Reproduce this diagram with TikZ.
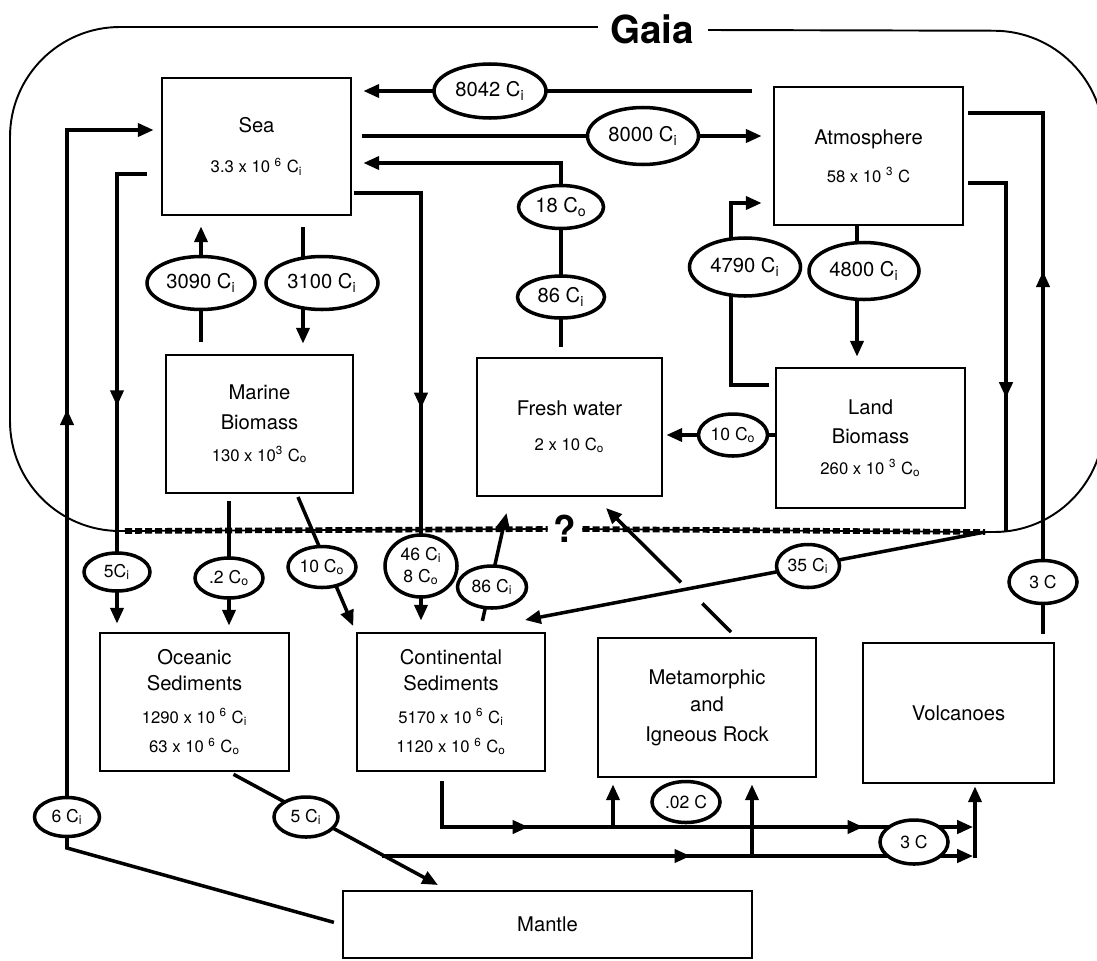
\documentclass[tikz,border=0pt]{standalone}
\usepackage{fontspec}
\setmainfont{TeX Gyre Heros}
\usetikzlibrary{arrows.meta,calc,shapes.geometric,decorations.markings,backgrounds}

\newlength{\unitpx}
\setlength{\unitpx}{0.02cm}
\newcommand{\Cin}{C\textsubscript{i}}
\newcommand{\Corg}{C\textsubscript{o}}
\newcommand{\valf}{\fontsize{9.5}{15}\selectfont}

\tikzset{
  >={Triangle[length=9pt,width=7.5pt]},
  stock/.style     = {draw, line width=1.6pt, fill=white, inner sep=0pt, align=center,
                      font=\fontsize{11.5}{15}\selectfont},
  flux/.style      = {ellipse, draw, line width=2pt, fill=white, inner sep=0pt,
                      align=center, font=\fontsize{11.5}{14}\selectfont},
  smallflux/.style = {flux, font=\fontsize{10}{12.5}\selectfont},
  flow/.style      = {->, line width=2pt},
  link/.style      = {line width=2pt},
  midarrow/.style  = {postaction={decorate, decoration={markings,
                      mark=at position #1 with {\arrow{>}}}}},
  gaia loop/.style = {line width=1.1pt, rounded corners=2.2cm},
  unknown/.style   = {line width=3.2pt, dash pattern=on 4pt off 1.7pt},
}

\begin{document}
\begin{tikzpicture}[x=0.02cm, y=-0.02cm]
  \useasboundingbox (0,0) rectangle (1097,960);

  % reservoirs
  \node[stock, minimum width=189\unitpx, minimum height=137\unitpx] (sea) at (256.5,146.5)
    {Sea\\[8pt]{\valf 3.3 x 10 \textsuperscript{6} \Cin}};
  \node[stock, minimum width=189\unitpx, minimum height=138\unitpx] (atmo) at (868.5,156)
    {Atmosphere\\[6.5pt]{\valf 58 x 10 \textsuperscript{3} C}};
  \node[stock, minimum width=187\unitpx, minimum height=138\unitpx] (marine) at (259.5,424)
    {Marine\\[2pt]Biomass\\[3pt]{\valf 130 x 10\textsuperscript{3} \Corg}};
  \node[stock, minimum width=185\unitpx, minimum height=138\unitpx] (fresh) at (569.5,427)
    {Fresh water\\[5pt]{\valf 2 x 10 \Corg}};
  \node[stock, minimum width=189\unitpx, minimum height=140\unitpx] (land) at (870.5,438)
    {Land\\[1.5pt]Biomass\\[2.5pt]{\valf 260 x 10 \textsuperscript{3} \Corg}};
  \node[stock, minimum width=189\unitpx, minimum height=138\unitpx] (ocean) at (194.5,702)
    {Oceanic\\Sediments\\[3.5pt]{\valf 1290 x 10 \textsuperscript{6} \Cin}\\[2pt]{\valf 63 x 10 \textsuperscript{6} \Corg}};
  \node[stock, minimum width=188\unitpx, minimum height=138\unitpx] (cont) at (451,702)
    {Continental\\Sediments\\[3.5pt]{\valf 5170 x 10 \textsuperscript{6} \Cin}\\[2pt]{\valf 1120 x 10 \textsuperscript{6} \Corg}};
  \node[stock, minimum width=218\unitpx, minimum height=139\unitpx] (meta) at (707,707.5)
    {Metamorphic\\[0.5pt]and\\[2pt]Igneous Rock};
  \node[stock, minimum width=191\unitpx, minimum height=140\unitpx] (volc) at (958.5,713) {Volcanoes};
  \node[stock, minimum width=409\unitpx, minimum height=67\unitpx] (mantle) at (547.5,924.5) {Mantle};

  % fluxes
  \node[flux, minimum width=112\unitpx, minimum height=54\unitpx] (f8042) at (490,91) {8042 \Cin};
  \node[flux, minimum width=111\unitpx, minimum height=57\unitpx] (f8000) at (643,136) {8000 \Cin};
  \node[flux, minimum width=85\unitpx, minimum height=43\unitpx] (f18) at (561,207) {18 \Corg};
  \node[flux, minimum width=87\unitpx, minimum height=42\unitpx] (f86a) at (561,297) {86 \Cin};
  \node[flux, minimum width=108\unitpx, minimum height=53\unitpx] (f3090) at (201,283) {3090 \Cin};
  \node[flux, minimum width=112\unitpx, minimum height=53\unitpx] (f3100) at (322,283) {3100 \Cin};
  \node[flux, minimum width=111\unitpx, minimum height=58\unitpx] (f4790) at (745,267) {4790 \Cin};
  \node[flux, minimum width=110\unitpx, minimum height=57\unitpx] (f4800) at (864,271) {4800 \Cin};
  \node[smallflux, minimum width=69\unitpx, minimum height=42\unitpx] (f10a) at (733,435) {10 \Corg};
  \node[smallflux, minimum width=66\unitpx, minimum height=38\unitpx] (f5a) at (117,572) {5\Cin};
  \node[smallflux, minimum width=68\unitpx, minimum height=40\unitpx] (f02) at (229,578) {.2 \Corg};
  \node[smallflux, minimum width=68\unitpx, minimum height=41\unitpx] (f10b) at (322,567) {10 \Corg};
  \node[smallflux, minimum width=72\unitpx, minimum height=62\unitpx] (f46) at (421,566) {46 \Cin\\8 \Corg};
  \node[smallflux, minimum width=69\unitpx, minimum height=42\unitpx] (f86b) at (492,587) {86 \Cin};
  \node[smallflux, minimum width=63\unitpx, minimum height=43\unitpx] (f35) at (808,566) {35 \Cin};
  \node[smallflux, minimum width=68\unitpx, minimum height=43\unitpx] (f3a) at (1043,582) {3 C};
  \node[smallflux, minimum width=65\unitpx, minimum height=39\unitpx] (f6) at (67,817) {6 \Cin};
  \node[smallflux, minimum width=64\unitpx, minimum height=40\unitpx] (f5b) at (306,817) {5 \Cin};
  \node[smallflux, minimum width=68\unitpx, minimum height=41\unitpx] (f002) at (686,802) {.02 C};
  \node[smallflux, minimum width=68\unitpx, minimum height=44\unitpx] (f3b) at (914,842) {3 C};

  \node[font=\fontsize{22}{22}\selectfont\bfseries] (title) at (652,29) {Gaia};
  \node[font=\fontsize{21}{21}\selectfont\bfseries] (unsure) at (565,529) {?};

  % bend points
  \coordinate (jn) at (985,532);
  \coordinate (c18) at (561,163);
  \coordinate (c3100) at (303,283);
  \coordinate (c6) at (67,848);
  \coordinate (c6t) at (67,130);
  \coordinate (c5) at (117,174);
  \coordinate (k10) at (298,497);
  \coordinate (c46) at (421,193);
  \coordinate (k86) at (480,283);
  \coordinate (k86b) at (510,283);
  \coordinate (k35) at (525,620);
  \coordinate (km1) at (731,632);
  \coordinate (km2) at (606,508);
  \coordinate (c4790a) at (731,385);
  \coordinate (c4790b) at (731,203);
  \coordinate (c4800) at (857,271);
  \coordinate (cq) at (1006,183);
  \coordinate (cqa) at (1006,398);
  \coordinate (cr) at (1043,113);
  \coordinate (cs) at (442,827);
  \coordinate (cb1) at (613,827);
  \coordinate (ct) at (382,856);
  \coordinate (cb2) at (752,856);
  \coordinate (cvb) at (975,858);
  \coordinate (kv) at (230,775);
  \coordinate (kv2) at (438,885);

  \begin{scope}[on background layer]
    % the Gaia boundary
    \draw[gaia loop] (title.west) ++(-6,-2) -- (10,27) -- (10,531) -- (125,531);
    \draw[gaia loop] (title.east) ++(8,1) -- (1104,31) -- (1104,532) -- (jn);
    \draw[line width=1pt] (125,531) -- (unsure.west);
    \draw[line width=1pt] (unsure.east) -- (jn);
    \draw[unknown] (125,531) -- (unsure.west);
    \draw[unknown] (unsure.east) -- (jn);

    % upper cycle
    \draw[flow, shorten <=21\unitpx, shorten >=11\unitpx] (atmo.west |- f8042) -- (sea.east |- f8042);
    \draw[flow, shorten <=10\unitpx, shorten >=11\unitpx] (sea.east |- f8000) -- (atmo.west |- f8000);
    \draw[flow, shorten <=10\unitpx, shorten >=11\unitpx] (fresh.north -| c18) -- (c18) -- (sea.east |- c18);
    \draw[flow, shorten <=12\unitpx, shorten >=10\unitpx] (marine.north -| f3090) -- (sea.south -| f3090);
    \draw[flow, shorten <=11\unitpx, shorten >=10\unitpx] (sea.south -| c3100) -- (marine.north -| c3100);
    \draw[flow, shorten >=3\unitpx] (land.west |- f10a) -- (fresh.east |- f10a);
    \draw[flow, shorten <=6\unitpx, shorten >=11\unitpx] (land.west |- c4790a) -- (c4790a) -- (c4790b) -- (atmo.west |- c4790b);
    \draw[flow, shorten >=10\unitpx] (atmo.south -| c4800) -- (land.north -| c4800);
    \draw[link, shorten <=4\unitpx] (atmo.east |- cq) -- (cq) -- (cq |- jn);
    \draw[flow] (cq) -- (cqa);
    \draw[link, midarrow=0.61, shorten <=8\unitpx, shorten >=4\unitpx] (volc.north -| cr) -- (cr) -- (atmo.east |- cr);

    % down to the sediments
    \draw[flow, midarrow=0.66, shorten <=8\unitpx, shorten >=7\unitpx] (mantle.west) -- (c6) -- (c6t) -- (sea.west |- c6t);
    \draw[flow, midarrow=0.55, shorten <=14\unitpx, shorten >=8\unitpx] (sea.west |- c5) -- (c5) -- (ocean.north -| c5);
    \draw[flow, shorten <=7\unitpx, shorten >=6\unitpx] (marine.south -| f02) -- (ocean.north -| f02);
    \draw[flow, shorten >=6\unitpx] (k10) -- (cont.north west);
    \draw[flow, midarrow=0.56, shorten <=2\unitpx, shorten >=11\unitpx] (sea.east |- c46) -- (c46) -- (cont.north -| c46);
    \draw[flow, shorten <=11\unitpx, shorten >=16\unitpx] (cont.north -| k86) -- (fresh.south -| k86b);
    \draw[flow] (jn) -- (k35);
    \draw[link] (km1) -- ($(km1)!0.23!(km2)$);
    \draw[flow] ($(km1)!0.40!(km2)$) -- (km2);

    % rock cycle
    \draw[flow, midarrow=0.24, midarrow=0.81, shorten <=9\unitpx, shorten >=2\unitpx] (cont.south -| cs) -- (cs) -- (cs -| cvb);
    \draw[flow, shorten >=6\unitpx] (cb1) -- (meta.south -| cb1);
    \draw[flow, shorten <=4\unitpx] (ocean.south -| kv) -- (kv2);
    \draw[flow, midarrow=0.52, shorten >=2\unitpx] (ct) -- (ct -| cvb);
    \draw[flow, shorten >=6\unitpx] (cb2) -- (meta.south -| cb2);
    \draw[flow, shorten >=2\unitpx] (cvb) -- (volc.south -| cvb);
  \end{scope}
\end{tikzpicture}
\end{document}
